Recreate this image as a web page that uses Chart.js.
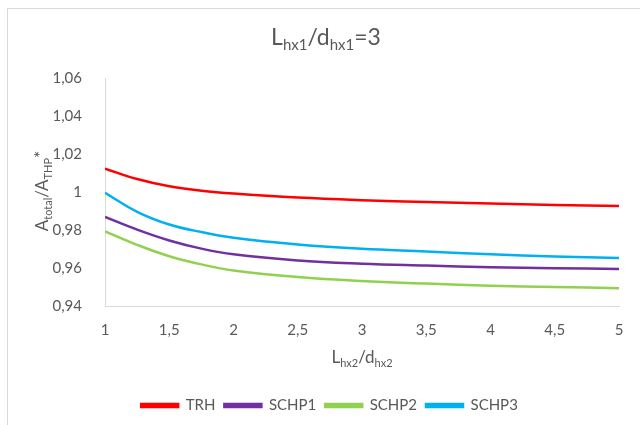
<!DOCTYPE html>
<html>
<head>
<meta charset="utf-8">
<script src="https://cdn.jsdelivr.net/npm/chart.js@4.4.1/dist/chart.umd.min.js"></script>
<style>
	html, body { margin: 0; padding: 0; background: #fff; }
	#wrap { position: relative; width: 640px; height: 425px; }
	#frame { position: absolute; left: 7px; top: 8px; width: 700px; height: 500px; border: 1px solid #d9d9d9; box-sizing: border-box; }
	canvas { position: absolute; left: 0; top: 0; }
</style>
</head>
<body>
<div id="wrap">
	<div id="frame"></div>
	<canvas id="chart" width="640" height="425"></canvas>
</div>
<script>
// x values (Lhx2/dhx2)
const xValues = [1, 1.25, 1.5, 1.75, 2, 2.5, 3, 3.5, 4, 4.5, 5];

// Atotal/ATHP*
const trh   = [1.0123, 1.0068, 1.0030, 1.0007, 0.9992, 0.9971, 0.9957, 0.9947, 0.9939, 0.9932, 0.9926];
const schp1 = [0.9869, 0.9802, 0.9745, 0.9702, 0.9672, 0.9640, 0.9623, 0.9613, 0.9604, 0.9599, 0.9595];
const schp2 = [0.9793, 0.9722, 0.9662, 0.9619, 0.9587, 0.9552, 0.9531, 0.9518, 0.9507, 0.9500, 0.9494];
const schp3 = [0.9996, 0.9896, 0.9829, 0.9789, 0.9759, 0.9724, 0.9701, 0.9687, 0.9672, 0.9661, 0.9653];

const seriesNames = ['TRH', 'SCHP1', 'SCHP2', 'SCHP3'];
const seriesColors = ['#ff0000', '#7030a0', '#92d050', '#00b0f0'];

const textColor = '#595959';
const fontFamily = 'Lato, "Open Sans", sans-serif';

function fmt(v) {
	return String(Number(v.toFixed(2))).replace('.', ',');
}

// draws text made of [string, isSub] parts, starting at x, on baseline y
function drawParts(ctx, parts, x, y, size) {
	parts.forEach(([str, sub]) => {
		const s = sub ? Math.round(size * 0.65) : size;
		ctx.font = s + 'px ' + fontFamily;
		ctx.fillText(str, x, sub ? y + size * 0.22 : y);
		x += ctx.measureText(str).width;
	});
	return x;
}

function partsWidth(ctx, parts, size) {
	let w = 0;
	parts.forEach(([str, sub]) => {
		ctx.font = (sub ? Math.round(size * 0.65) : size) + 'px ' + fontFamily;
		w += ctx.measureText(str).width;
	});
	return w;
}

const titleParts = [['L'], ['hx1', true], ['/d'], ['hx1', true], ['=3']];
const xTitleParts = [['L'], ['hx2', true], ['/d'], ['hx2', true]];
const yTitleParts = [['A'], ['total', true], ['/A'], ['THP', true], ['*']];

const textPlugin = {
	id: 'subTitles',
	afterDraw(chart) {
		const ctx = chart.ctx;
		const area = chart.chartArea;
		ctx.save();
		ctx.fillStyle = textColor;
		ctx.textBaseline = 'alphabetic';
		ctx.textAlign = 'left';

		// chart title
		let w = partsWidth(ctx, titleParts, 23);
		drawParts(ctx, titleParts, 326 - w / 2, 45, 23);

		// x axis title
		w = partsWidth(ctx, xTitleParts, 17);
		drawParts(ctx, xTitleParts, (area.left + area.right) / 2 - w / 2, 363, 17);

		// y axis title, rotated
		w = partsWidth(ctx, yTitleParts, 17);
		ctx.translate(48, 191);
		ctx.rotate(-Math.PI / 2);
		let x = -w / 2;
		yTitleParts.forEach(([str, sub]) => {
			if (str === '*') {
				ctx.font = '17px ' + fontFamily;
				ctx.fillText(str, x, -1);
				x += ctx.measureText(str).width;
			} else {
				x = drawParts(ctx, [[str, sub]], x, 0, 17);
			}
		});
		ctx.restore();
	}
};

const allSeries = [trh, schp1, schp2, schp3];

const chart = new Chart(document.getElementById('chart'), {
	type: 'line',
	data: {
		datasets: allSeries.map((vals, i) => ({
			label: seriesNames[i],
			data: vals.map((v, j) => ({ x: xValues[j], y: v })),
			borderColor: seriesColors[i],
			backgroundColor: seriesColors[i],
			borderWidth: 2.5,
			pointRadius: 0,
			tension: 0.4,
			fill: false
		}))
	},
	options: {
		responsive: false,
		animation: false,
		layout: { padding: { left: 40, right: 21, top: 78, bottom: 2 } },
		plugins: {
			title: { display: false },
			tooltip: { enabled: false },
			legend: {
				position: 'bottom',
				labels: {
					color: textColor,
					font: { family: fontFamily, size: 15 },
					boxWidth: 37,
					boxHeight: 3,
					padding: 9
				}
			}
		},
		scales: {
			x: {
				type: 'linear',
				min: 1,
				max: 5,
				grid: { display: false },
				border: { display: true, color: '#d9d9d9', width: 1 },
				ticks: {
					stepSize: 0.5,
					color: textColor,
					font: { family: fontFamily, size: 15 },
					padding: 7,
					maxRotation: 0,
					callback: v => fmt(v)
				},
				afterFit: scale => { scale.height = 83; }
			},
			y: {
				min: 0.94,
				max: 1.06,
				grid: { display: false },
				border: { display: true, color: '#d9d9d9', width: 1 },
				ticks: {
					stepSize: 0.02,
					color: textColor,
					font: { family: fontFamily, size: 15 },
					padding: 15,
					callback: v => fmt(v)
				},
				afterFit: scale => { scale.width = 65; }
			}
		}
	},
	plugins: [textPlugin]
});
</script>
</body>
</html>
